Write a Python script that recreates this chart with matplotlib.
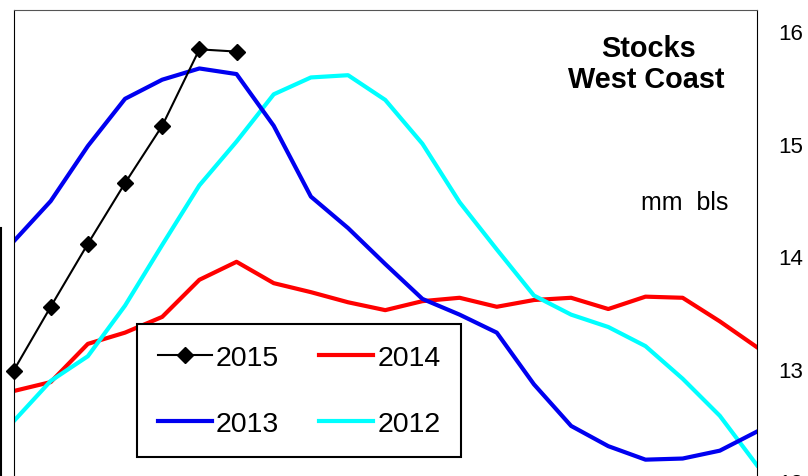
import matplotlib
matplotlib.use("Agg")
import matplotlib.pyplot as plt
from matplotlib.lines import Line2D

plt.rcParams['font.family'] = ['Liberation Sans', 'DejaVu Sans']

# ---- data (million barrels), weekly points ----
weeks = list(range(21))
s2015 = [12.98, 13.55, 14.11, 14.65, 15.16, 15.84, 15.82]
s2014 = [12.80, 12.88, 13.22, 13.32, 13.46, 13.79, 13.95, 13.76, 13.68, 13.59,
         13.52, 13.60, 13.63, 13.55, 13.61, 13.63, 13.53, 13.64, 13.63, 13.42, 13.19]
s2013 = [14.13, 14.49, 14.98, 15.40, 15.57, 15.67, 15.62, 15.16, 14.53, 14.25,
         13.93, 13.62, 13.48, 13.32, 12.86, 12.49, 12.31, 12.19, 12.20, 12.27, 12.44]
s2012 = [12.53, 12.89, 13.11, 13.56, 14.10, 14.63, 15.02, 15.44, 15.59, 15.61,
         15.39, 15.00, 14.48, 14.06, 13.65, 13.48, 13.37, 13.20, 12.91, 12.58, 12.14]
yticks = [12, 13, 14, 15, 16]

W, H = 808, 477
fig = plt.figure(figsize=(W / 100, H / 100), dpi=100)
fig.patch.set_facecolor('white')

left_px, right_px, top_px, bottom_px = 13.5, 757, 11, 500
ax = fig.add_axes([left_px / W, 1 - bottom_px / H,
                   (right_px - left_px) / W, (bottom_px - top_px) / H])

l14, = ax.plot(weeks, s2014, color='#FF0000', lw=3.0, label='2014')
l12, = ax.plot(weeks, s2012, color='#00FFFF', lw=3.0, label='2012')
l13, = ax.plot(weeks, s2013, color='#0000F0', lw=3.0, label='2013')
l15, = ax.plot(weeks[:len(s2015)], s2015, color='black', lw=1.5, marker='D',
               markersize=8.5, markerfacecolor='black', markeredgecolor='black',
               clip_on=False, label='2015')

ax.set_xlim(0, 20)
ax.set_ylim(11.84, 16.19)
ax.set_xticks([])
ax.yaxis.tick_right()
ax.set_yticks(yticks)
ax.set_yticklabels([str(v) for v in yticks])
ax.tick_params(axis='y', length=0, pad=15, labelsize=16, labelcolor='black')

for side in ['left', 'right', 'top', 'bottom']:
    ax.spines[side].set_linewidth(0.8)
    ax.spines[side].set_color('black')
ax.spines['top'].set_color('#555555')

leg = ax.legend(handles=[l15, l13, l14, l12], ncol=2, fontsize=20.5,
                loc='upper left', bbox_to_anchor=(137 / W, 1 - 325 / H),
                bbox_transform=fig.transFigure, borderaxespad=0,
                frameon=True, fancybox=False, framealpha=1, edgecolor='black',
                handlelength=1.9, handletextpad=0.15, columnspacing=1.4,
                labelspacing=1.42, borderpad=0.72, numpoints=1)
leg.get_frame().set_linewidth(1.5)

fig.text(648 / W, 1 - 57 / H, 'Stocks', ha='center', va='baseline',
         fontsize=20.8, fontweight='bold')
fig.text(646 / W, 1 - 88 / H, 'West Coast', ha='center', va='baseline',
         fontsize=20.8, fontweight='bold')
fig.text(728 / W, 1 - 210 / H, 'mm  bls', ha='right', va='baseline', fontsize=18)

# edge of neighbouring element at far left
fig.add_artist(Line2D([1.2 / W, 1.2 / W], [0, 1 - 229 / H], color='black', lw=1.5,
                      transform=fig.transFigure))

fig.savefig('out.png', dpi=100)
